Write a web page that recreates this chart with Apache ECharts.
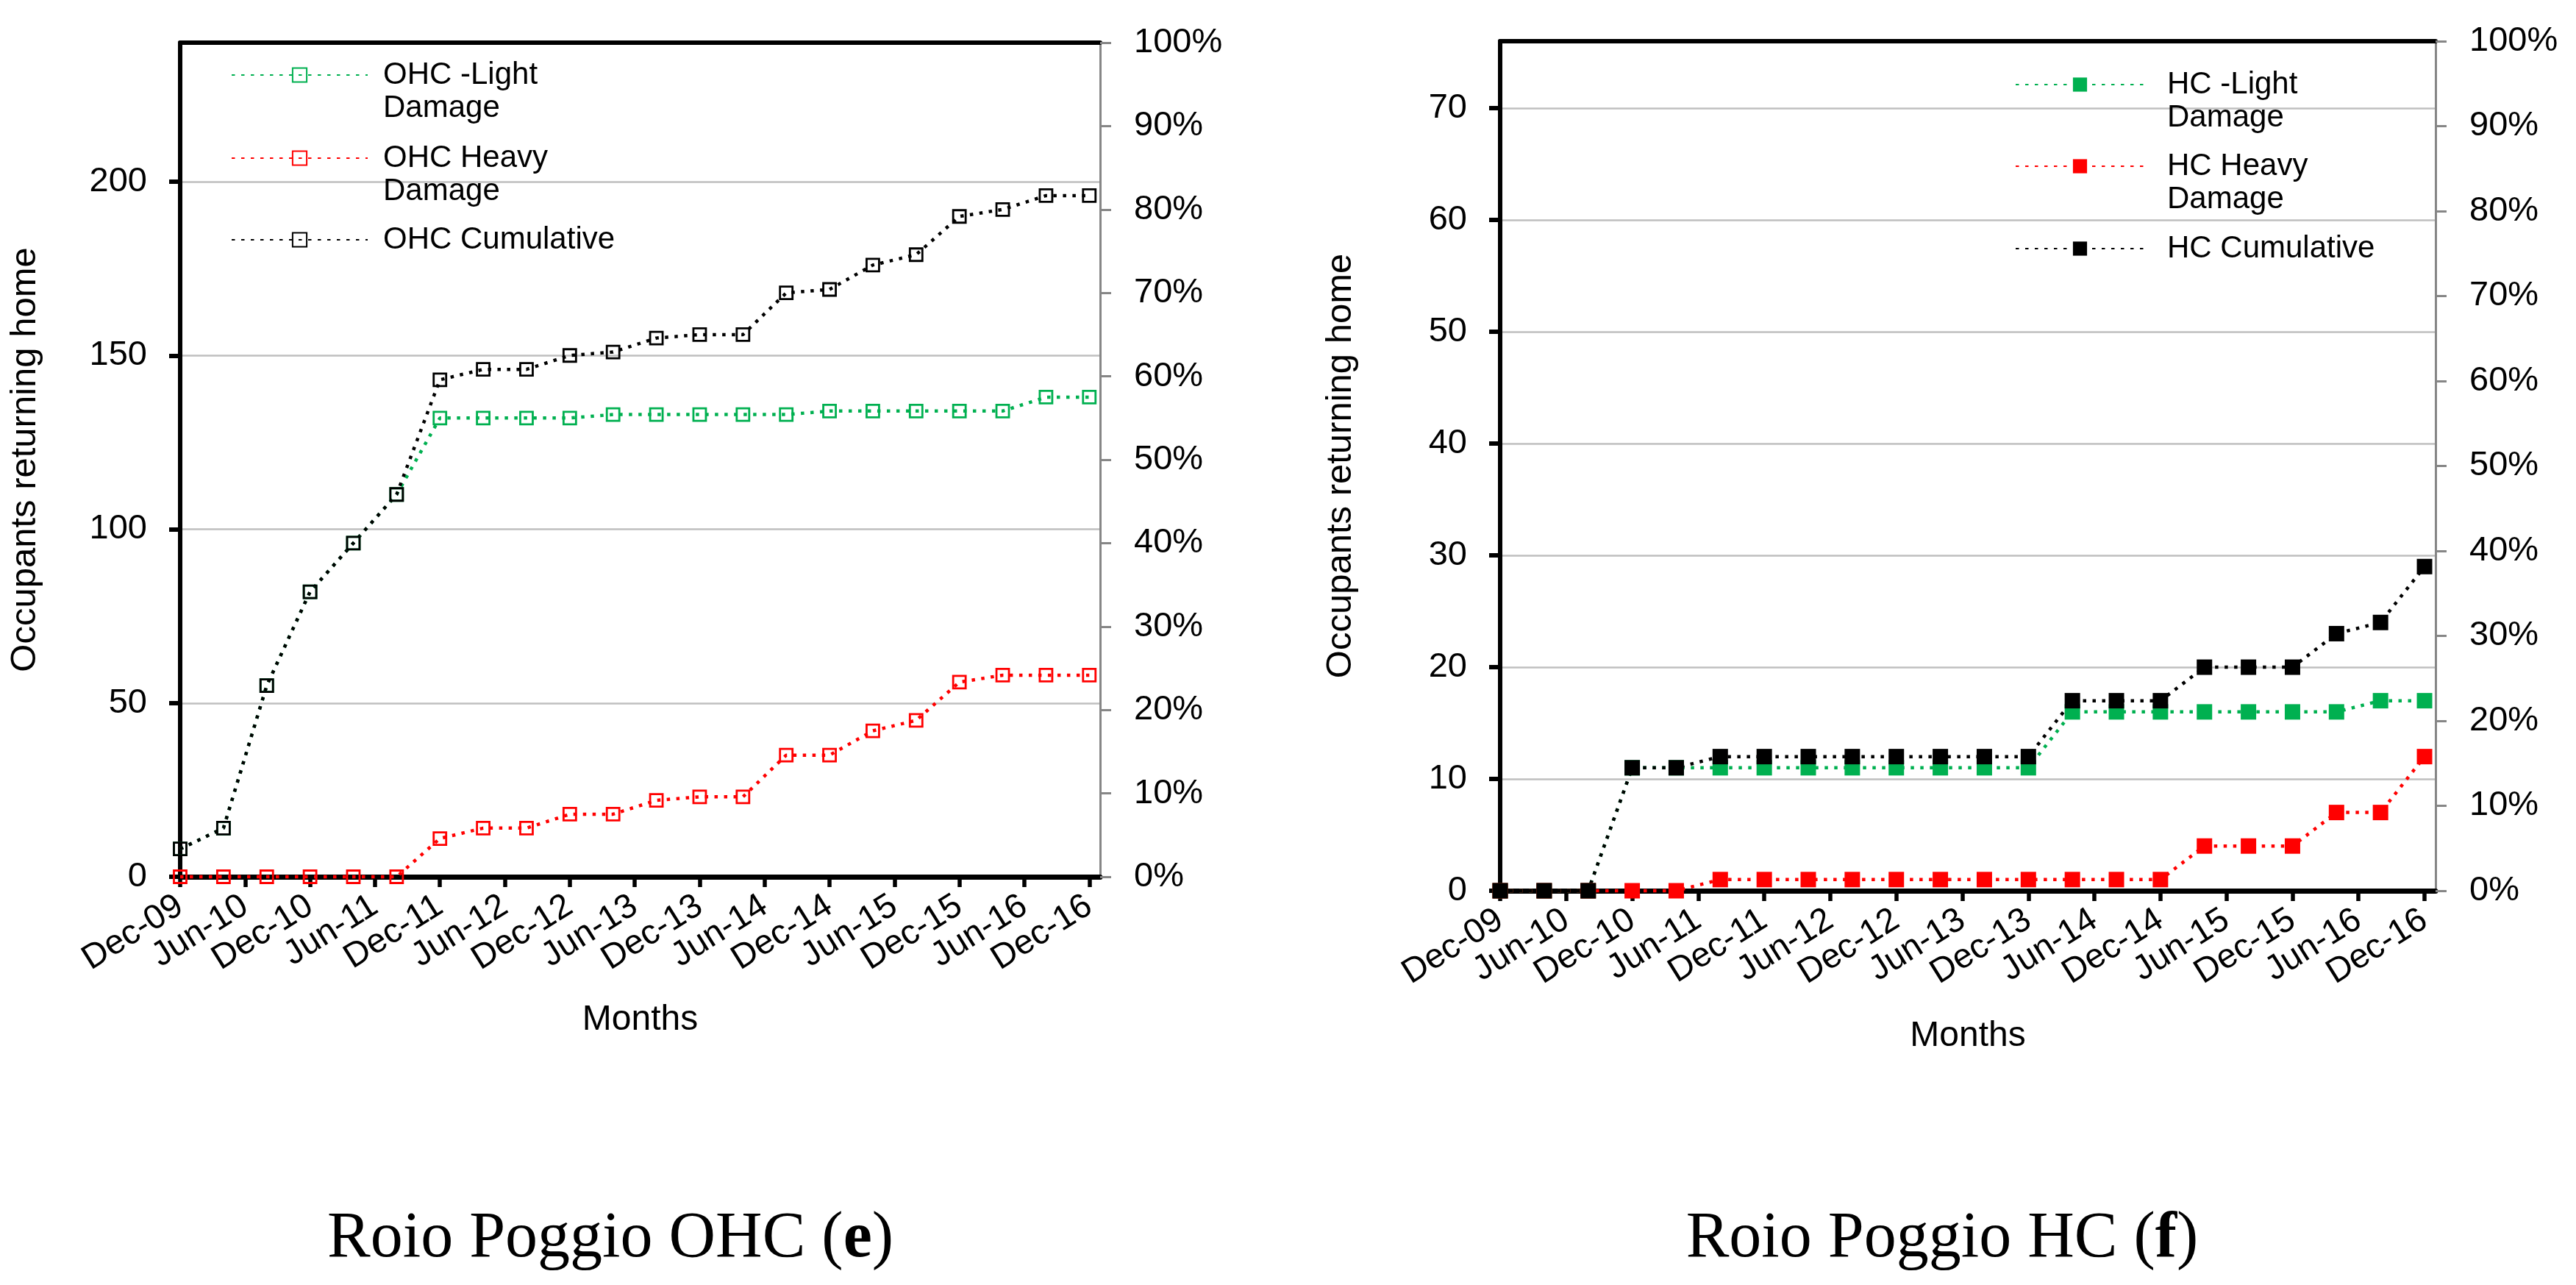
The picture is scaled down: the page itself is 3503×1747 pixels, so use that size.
<!DOCTYPE html>
<html>
<head>
<meta charset="utf-8">
<script src="https://cdn.jsdelivr.net/npm/echarts@6/dist/echarts.min.js"></script>
<style>
html,body{margin:0;padding:0;background:#fff;}
#chart{width:3503px;height:1747px;}
</style>
</head>
<body>
<div id="chart"></div>
<script>
// ---- data ----
const pointDates = ['2009-12','2010-04','2010-08','2010-12','2011-04','2011-08','2011-12','2012-04','2012-08','2012-12','2013-04','2013-08','2013-12','2014-04','2014-08','2014-12','2015-04','2015-08','2015-12','2016-04','2016-08','2016-12'];
const tickLabels = ['Dec-09','Jun-10','Dec-10','Jun-11','Dec-11','Jun-12','Dec-12','Jun-13','Dec-13','Jun-14','Dec-14','Jun-15','Dec-15','Jun-16','Dec-16'];

const ohcLight = [8,14,55,82,96,110,132,132,132,132,133,133,133,133,133,134,134,134,134,134,138,138];
const ohcHeavy = [0,0,0,0,0,0,11,14,14,18,18,22,23,23,35,35,42,45,56,58,58,58];
const ohcCum   = [8,14,55,82,96,110,143,146,146,150,151,155,156,156,168,169,176,179,190,192,196,196];

const hcLight = [0,0,0,11,11,11,11,11,11,11,11,11,11,16,16,16,16,16,16,16,17,17];
const hcHeavy = [0,0,0,0,0,1,1,1,1,1,1,1,1,1,1,1,4,4,4,7,7,12];
const hcCum   = [0,0,0,11,11,12,12,12,12,12,12,12,12,17,17,17,20,20,20,23,24,29];

const namesOHC = ['OHC -Light\nDamage','OHC Heavy\nDamage','OHC Cumulative'];
const namesHC  = ['HC -Light\nDamage','HC Heavy\nDamage','HC Cumulative'];
const captions = ['Roio Poggio OHC (', 'e', ')', 'Roio Poggio HC (', 'f', ')'];

// ---- helpers ----
const FONT = 'Liberation Sans, Arial, sans-serif';
const GREEN = '#00B050', RED = '#FF0000', BLACK = '#000000';
function monthOffset(s){ const [y,m]=s.split('-').map(Number); return (y-2009)*12 + (m-12); }
const xs = pointDates.map(monthOffset);
const pairs = arr => arr.map((v,i)=>[xs[i], v]);
const tickFmt = v => (v > 0 && v % 6 === 0 && tickLabels[v/6]) ? tickLabels[v/6] : '';
const firstFmt = v => v === 0 ? tickLabels[0] : '';

const xLabelStyle = {rotate:32, margin:36, fontSize:47, lineHeight:36, color:'#000', fontFamily:FONT};

function bottomAxis(g, gap){
  return {gridIndex:g, type:'value', min:0, max:85, interval:6, position:'bottom',
    axisLine:{show:true, onZero:false, lineStyle:{color:'#000', width:7}},
    axisTick:{show:true, length:14, lineStyle:{color:'#000', width:5.5}},
    splitLine:{show:false},
    axisLabel:Object.assign({formatter:tickFmt, showMinLabel:false, showMaxLabel:false}, xLabelStyle),
    name:'Months', nameLocation:'middle', nameGap:gap,
    nameTextStyle:{fontSize:48, color:'#000', fontFamily:FONT}};
}
// companion axis carrying only the first (Dec-09) label and tick
function firstLabelAxis(g){
  return {gridIndex:g, type:'value', min:0, max:85, interval:6, position:'bottom',
    axisLine:{show:false, onZero:false},
    axisTick:{show:true, length:14, lineStyle:{color:'#000', width:5.5}},
    splitLine:{show:false},
    axisLabel:Object.assign({formatter:firstFmt, showMinLabel:true, showMaxLabel:false}, xLabelStyle)};
}
function topAxis(g){
  return {gridIndex:g, type:'value', min:0, max:85, position:'top',
    axisLine:{show:true, onZero:false, lineStyle:{color:'#000', width:6}},
    axisTick:{show:false}, axisLabel:{show:false}, splitLine:{show:false}};
}
function leftAxis(g, max, interval, gap){
  return {gridIndex:g, type:'value', min:0, max:max, interval:interval, position:'left',
    axisLine:{show:true, onZero:false, lineStyle:{color:'#000', width:6}},
    axisTick:{show:true, length:15, lineStyle:{color:'#000', width:6}},
    splitLine:{show:true, lineStyle:{color:'#BFBFBF', width:2.7}},
    axisLabel:{margin:45, fontSize:47, color:'#000', fontFamily:FONT, showMaxLabel:false},
    name:'Occupants returning home', nameLocation:'middle', nameRotate:90, nameGap:gap,
    nameTextStyle:{fontSize:49, color:'#000', fontFamily:FONT}};
}
function pctAxis(g){
  return {gridIndex:g, type:'value', min:0, max:100, interval:10, position:'right',
    axisLine:{show:true, onZero:false, lineStyle:{color:'#868686', width:3}},
    axisTick:{show:true, length:15, lineStyle:{color:'#868686', width:3}},
    splitLine:{show:false},
    axisLabel:{margin:46, fontSize:47, color:'#000', fontFamily:FONT, formatter:'{value}%'}};
}
function lineSeries(name, data, color, xi, yi, hollow){
  return {type:'line', name:name, data:pairs(data), xAxisIndex:xi, yAxisIndex:yi,
    symbol:'rect', symbolSize: hollow ? 17 : 21, clip:false, silent:true,
    lineStyle:{color:color, width:4.5, type:[4.5,8.5]},
    itemStyle: hollow ? {color:'transparent', borderColor:color, borderWidth:2.8} : {color:color, borderWidth:0},
    emphasis:{disabled:true}, z: 3};
}
function legendItem(name, left, top, width, twoLine, textPad){
  return {data:[name], left:left, top:top, orient:'vertical', padding:0, selectedMode:false,
    itemWidth:width, itemHeight:24,
    formatter: n => twoLine ? '\n' + n : n,
    textStyle:{fontFamily:FONT, fontSize:42, color:'#000', lineHeight:45, padding:[0,0,0,textPad]}};
}

const option = {
  animation:false,
  backgroundColor:'#fff',
  textStyle:{fontFamily:FONT},
  grid:[
    {left:245, top:58, width:1251, height:1134},
    {left:2040, top:56, width:1272, height:1155}
  ],
  xAxis:[bottomAxis(0,171), topAxis(0), bottomAxis(1,174), topAxis(1), firstLabelAxis(0), firstLabelAxis(1)],
  yAxis:[leftAxis(0,240,50,186), pctAxis(0), leftAxis(1,76,10,192), pctAxis(1)],
  legend:[
    legendItem(namesOHC[0], 314, 34.5, 185, true, 16),
    legendItem(namesOHC[1], 314, 147.5, 185, true, 16),
    legendItem(namesOHC[2], 314, 303.5, 185, false, 16),
    legendItem(namesHC[0], 2740, 47.5, 175, true, 26),
    legendItem(namesHC[1], 2740, 158.5, 175, true, 26),
    legendItem(namesHC[2], 2740, 315.5, 175, false, 26)
  ],
  series:[
    lineSeries(namesOHC[0], ohcLight, GREEN, 0, 0, true),
    lineSeries(namesOHC[1], ohcHeavy, RED, 0, 0, true),
    lineSeries(namesOHC[2], ohcCum, BLACK, 0, 0, true),
    lineSeries(namesHC[0], hcLight, GREEN, 2, 2, false),
    lineSeries(namesHC[1], hcHeavy, RED, 2, 2, false),
    lineSeries(namesHC[2], hcCum, BLACK, 2, 2, false)
  ],
  graphic:[
    {type:'text', x:830, y:1685, style:{text:'{a|'+captions[0]+'}{b|'+captions[1]+'}{a|'+captions[2]+'}', align:'center', verticalAlign:'middle',
      rich:{a:{fontFamily:'Liberation Serif, serif', fontSize:88, fill:'#000'}, b:{fontFamily:'Liberation Serif, serif', fontSize:88, fontWeight:'bold', fill:'#000'}}}},
    {type:'text', x:2641, y:1685, style:{text:'{a|'+captions[3]+'}{b|'+captions[4]+'}{a|'+captions[5]+'}', align:'center', verticalAlign:'middle',
      rich:{a:{fontFamily:'Liberation Serif, serif', fontSize:88, fill:'#000'}, b:{fontFamily:'Liberation Serif, serif', fontSize:88, fontWeight:'bold', fill:'#000'}}}}
  ]
};
const chart = echarts.init(document.getElementById('chart'));
chart.setOption(option);
</script>
</body>
</html>
